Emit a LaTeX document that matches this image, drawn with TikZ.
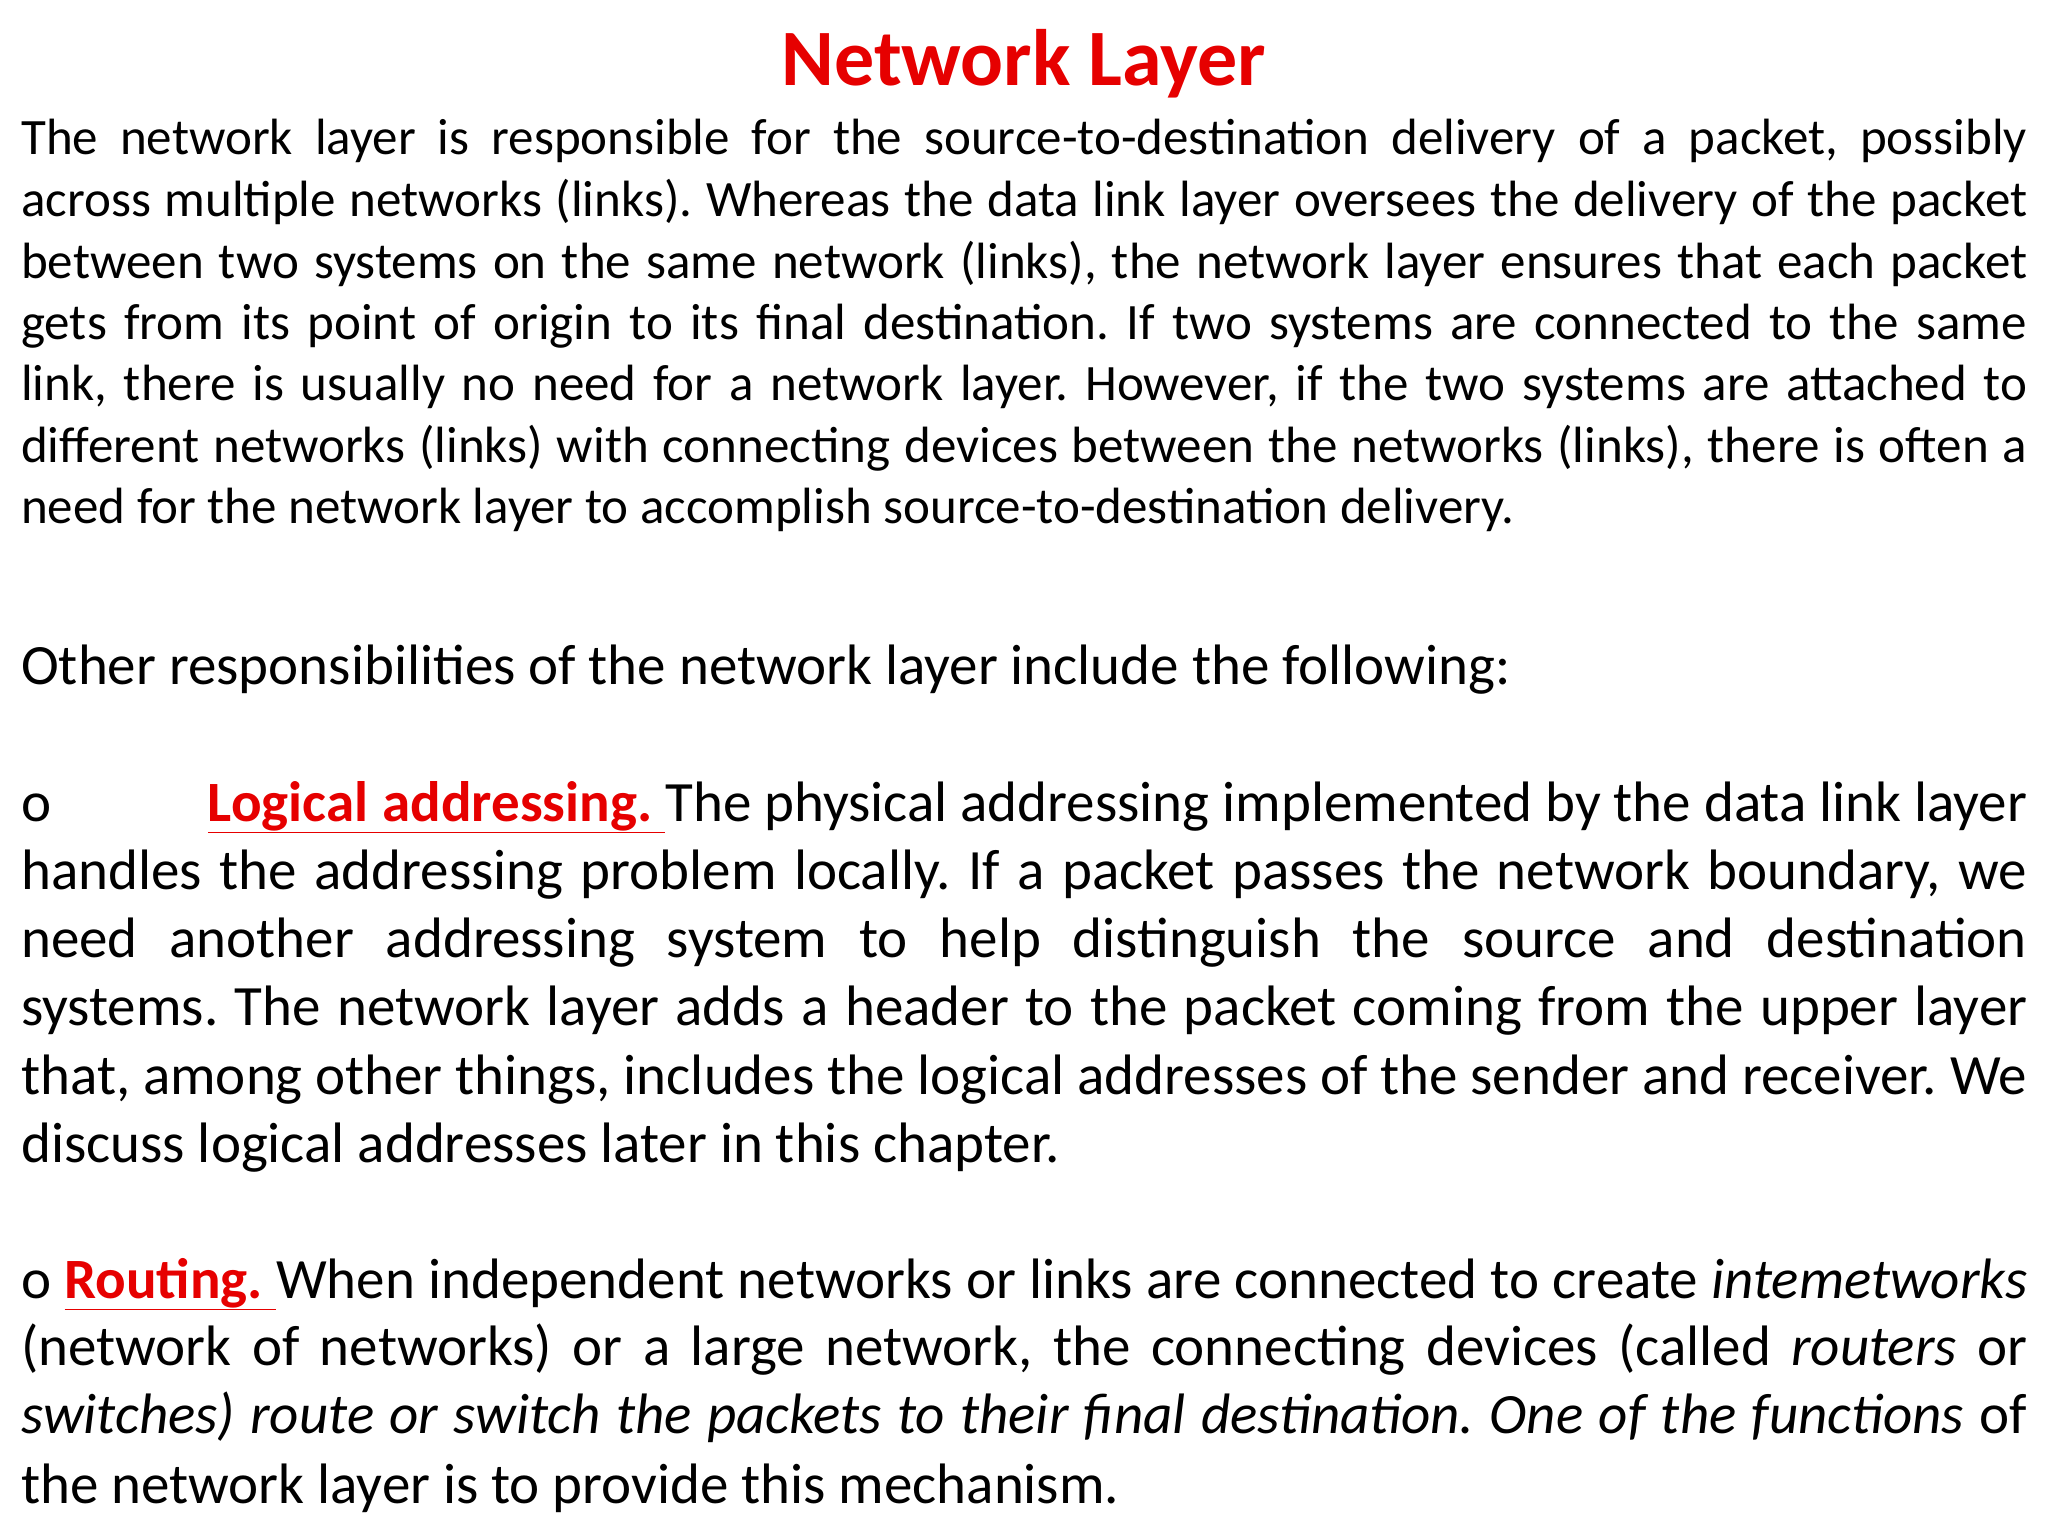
\documentclass[tikz,border=0pt]{standalone}
\usepackage{fontspec}
\setmainfont{Carlito}
\definecolor{tred}{RGB}{230,0,0}
\newcommand{\jl}[4]{\node[anchor=base west,inner sep=0pt,font=\fontsize{#2}{#2}\selectfont] (#1) at (21pt,-#3pt) {\frenchspacing\hbox to 2006pt{#4}};}
\newcommand{\rl}[4]{\node[anchor=base west,inner sep=0pt,font=\fontsize{#2}{#2}\selectfont] (#1) at (21pt,-#3pt) {\frenchspacing #4};}
\begin{document}
\begin{tikzpicture}[x=1pt,y=1pt]
\useasboundingbox[fill=white] (0,0) rectangle (2048,-1536);
\node[anchor=base,inner sep=0pt,font=\fontsize{80}{80}\selectfont\bfseries,text=tred] (title) at (1024,-86) {Network Layer};
\jl{a1}{51}{155}{The network layer is responsible for the source-to-destination delivery of a packet, possibly}
\jl{a2}{51}{216}{across multiple networks (links). Whereas the data link layer oversees the delivery of the packet}
\jl{a3}{51}{278}{between two systems on the same network (links), the network layer ensures that each packet}
\jl{a4}{51}{339}{gets from its point of origin to its final destination. If two systems are connected to the same}
\jl{a5}{51}{400}{link, there is usually no need for a network layer. However, if the two systems are attached to}
\jl{a6}{51}{462}{different networks (links) with connecting devices between the networks (links), there is often a}
\rl{a7}{51}{523}{need for the network layer to accomplish source-to-destination delivery.}
\rl{o1}{57}{684}{Other responsibilities of the network layer include the following:}
\jl{b1}{57}{821}{o\hfil\textcolor{tred}{\bfseries\underline{Logical\hspace{14pt}addressing.\ }}The physical addressing implemented by the data link layer}
\jl{b2}{57}{889}{handles the addressing problem locally. If a packet passes the network boundary, we}
\jl{b3}{57}{957}{need another addressing system to help distinguish the source and destination}
\jl{b4}{57}{1025}{systems. The network layer adds a header to the packet coming from the upper layer}
\jl{b5}{57}{1094}{that, among other things, includes the logical addresses of the sender and receiver. We}
\rl{b6}{57}{1162}{discuss logical addresses later in this chapter.}
\jl{c1}{57}{1298}{o \textcolor{tred}{\bfseries\underline{Routing.\ }}When independent networks or links are connected to create \textit{intemetworks}}
\jl{c2}{57}{1365}{(network of networks) or a large network, the connecting devices (called \textit{routers} or}
\jl{c3}{57}{1433}{\textit{switches) route or switch the packets to their final destination. One of the functions} of}
\rl{c4}{57}{1503}{the network layer is to provide this mechanism.}
\end{tikzpicture}
\end{document}
